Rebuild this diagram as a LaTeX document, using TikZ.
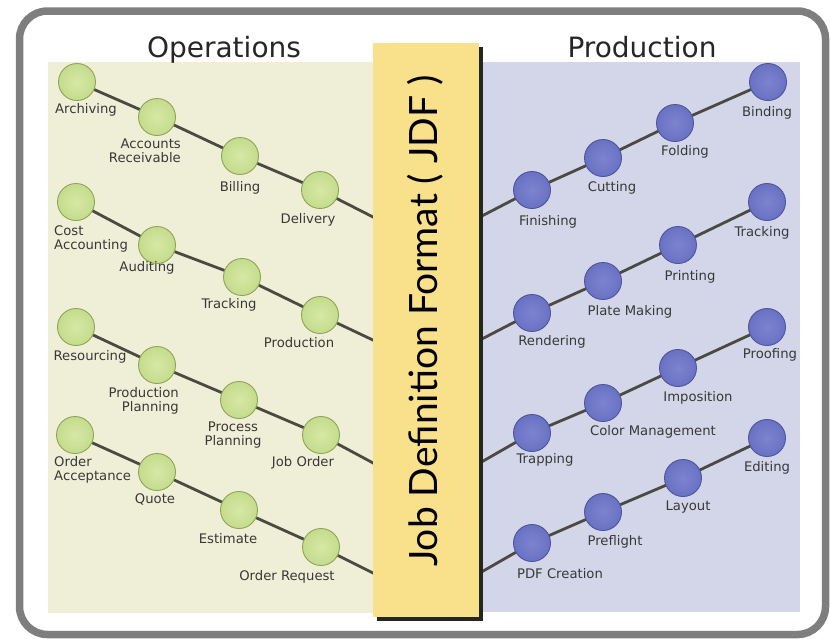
\documentclass[tikz,border=0pt]{standalone}
\usepackage{fontspec}
\setmainfont{DejaVu Sans}
\newfontfamily\jdffont{Lato}
\definecolor{framegray}{HTML}{7E7E7E}
\definecolor{beigepanel}{HTML}{EFEFD7}
\definecolor{lavpanel}{HTML}{D3D6E9}
\definecolor{jdfyellow}{HTML}{F9E08A}
\definecolor{shadowcol}{HTML}{262620}
\definecolor{greenfill}{HTML}{C4DC8C}
\definecolor{greenlight}{HTML}{D6E8A6}
\definecolor{greenedge}{HTML}{8FA458}
\definecolor{purplefill}{HTML}{6971C3}
\definecolor{purplelight}{HTML}{7C84D0}
\definecolor{purpleedge}{HTML}{4E559A}
\definecolor{linecol}{HTML}{4A4A42}
\definecolor{labelgray}{HTML}{383838}
\pgfdeclarelayer{bg}
\pgfdeclarelayer{lines}
\pgfdeclarelayer{top}
\pgfsetlayers{bg,lines,main,top}
\begin{document}
\begin{tikzpicture}[x=1pt,y=-1pt,
  gnode/.style={circle,minimum size=37pt,inner sep=0pt,draw=greenedge,line width=0.9pt,
     inner color=greenlight,outer color=greenfill},
  pnode/.style={circle,minimum size=37pt,inner sep=0pt,draw=purpleedge,line width=0.9pt,
     inner color=purplelight,outer color=purplefill},
  lbl/.style={font=\fontsize{13.2}{14.2}\selectfont,text=labelgray,inner sep=0pt,align=center},
  lblr/.style={lbl,align=right},
  lbll/.style={lbl,align=left},
  link/.style={line width=2.8pt,draw=linecol},
  heading/.style={font=\fontsize{28}{31}\selectfont,text=black!85,inner sep=0pt}]
\useasboundingbox (0,0) rectangle (830,638);
\begin{pgfonlayer}{bg}
% frame
\draw[line width=7.5pt,framegray,rounded corners=28pt] (19.5,11) rectangle (825.5,634.5);
% panels
\fill[beigepanel] (48,62) rectangle (373,613);
\fill[lavpanel] (480,62) rectangle (800,612);
\end{pgfonlayer}
% headings
\node[heading,anchor=base] (hops) at (224,57) {Operations};
\node[heading,anchor=base] (hprod) at (642,57) {Production};
% free ends at the JDF box edge
\coordinate (La) at (375,218);
\coordinate (Lb) at (375,341);
\coordinate (Lc) at (375,464);
\coordinate (Ld) at (375,574);
\coordinate (Ra) at (478,218);
\coordinate (Rb) at (478,341);
\coordinate (Rc) at (478,464);
\coordinate (Rd) at (478,574);
% green nodes
\node[gnode] (A1) at (77,82) {};
\node[gnode] (A2) at (157,117) {};
\node[gnode] (A3) at (240,156) {};
\node[gnode] (A4) at (320,190) {};
\node[gnode] (B1) at (76,202) {};
\node[gnode] (B2) at (157,245) {};
\node[gnode] (B3) at (242,277) {};
\node[gnode] (B4) at (320,315) {};
\node[gnode] (C1) at (76,327) {};
\node[gnode] (C2) at (157,365) {};
\node[gnode] (C3) at (239,400) {};
\node[gnode] (C4) at (321,435) {};
\node[gnode] (D1) at (75,435) {};
\node[gnode] (D2) at (157,472) {};
\node[gnode] (D3) at (239,510) {};
\node[gnode] (D4) at (321,547) {};
% purple nodes
\node[pnode] (E1) at (532,190) {};
\node[pnode] (E2) at (603,158) {};
\node[pnode] (E3) at (675,123) {};
\node[pnode] (E4) at (768,82) {};
\node[pnode] (F1) at (532,313) {};
\node[pnode] (F2) at (603,281) {};
\node[pnode] (F3) at (678,245) {};
\node[pnode] (F4) at (767,202) {};
\node[pnode] (G1) at (532,433) {};
\node[pnode] (G2) at (603,403) {};
\node[pnode] (G3) at (678,368) {};
\node[pnode] (G4) at (767,327) {};
\node[pnode] (H1) at (532,543) {};
\node[pnode] (H2) at (603,512) {};
\node[pnode] (H3) at (683,478) {};
\node[pnode] (H4) at (767,438) {};
% connectors
\begin{pgfonlayer}{lines}
\draw[link] (A1.center) -- (A2.center) -- (A3.center) -- (A4.center) -- (La);
\draw[link] (B1.center) -- (B2.center) -- (B3.center) -- (B4.center) -- (Lb);
\draw[link] (C1.center) -- (C2.center) -- (C3.center) -- (C4.center) -- (Lc);
\draw[link] (D1.center) -- (D2.center) -- (D3.center) -- (D4.center) -- (Ld);
\draw[link] (Ra) -- (E1.center) -- (E2.center) -- (E3.center) -- (E4.center);
\draw[link] (Rb) -- (F1.center) -- (F2.center) -- (F3.center) -- (F4.center);
\draw[link] (Rc) -- (G1.center) -- (G2.center) -- (G3.center) -- (G4.center);
\draw[link] (Rd) -- (H1.center) -- (H2.center) -- (H3.center) -- (H4.center);
\end{pgfonlayer}
% left labels
\node[lbl] (lA1) at (86,110) {Archiving};
\node[lblr,anchor=east] (lA2) at (181,151) {Accounts\\Receivable};
\node[lbl] (lA3) at (240,188) {Billing};
\node[lbl] (lA4) at (308,220) {Delivery};
\node[lbll,anchor=west] (lB1) at (54,239) {Cost\\Accounting};
\node[lbl] (lB2) at (147,268) {Auditing};
\node[lbl] (lB3) at (229,305) {Tracking};
\node[lbl] (lB4) at (299,343) {Production};
\node[lbl] (lC1) at (90,357) {Resourcing};
\node[lblr,anchor=east] (lC2) at (179,401) {Production\\Planning};
\node[lbl] (lC3) at (233,435) {Process\\Planning};
\node[lbl] (lC4) at (303,463) {Job Order};
\node[lbll,anchor=west] (lD1) at (54,470) {Order\\Acceptance};
\node[lbl] (lD2) at (155,499) {Quote};
\node[lbl] (lD3) at (228,539) {Estimate};
\node[lbl] (lD4) at (287,577) {Order Request};
% right labels
\node[lbl] (lE1) at (548,222) {Finishing};
\node[lbl] (lE2) at (612,188) {Cutting};
\node[lbl] (lE3) at (685,152) {Folding};
\node[lbl] (lE4) at (767,113) {Binding};
\node[lbl] (lF1) at (552,342) {Rendering};
\node[lbl] (lF2) at (630,312) {Plate Making};
\node[lbl] (lF3) at (690,277) {Printing};
\node[lbl] (lF4) at (762,233) {Tracking};
\node[lbl] (lG1) at (545,460) {Trapping};
\node[lbl] (lG2) at (653,432) {Color Management};
\node[lbl] (lG3) at (698,398) {Imposition};
\node[lbl] (lG4) at (770,355) {Proofing};
\node[lbl] (lH1) at (560,574) {PDF Creation};
\node[lbl] (lH2) at (615,542) {Preflight};
\node[lbl] (lH3) at (688,507) {Layout};
\node[lbl] (lH4) at (767,468) {Editing};
% JDF box
\begin{pgfonlayer}{top}
\fill[shadowcol] (377,47) rectangle (483,621);
\fill[jdfyellow] (373,43) rectangle (479,617);
\node[font=\jdffont\fontsize{39}{42}\selectfont,rotate=90,anchor=base,inner sep=0pt] (jdf) at (437,321) {Job Definition Format ( JDF )};
\end{pgfonlayer}
\end{tikzpicture}
\end{document}
